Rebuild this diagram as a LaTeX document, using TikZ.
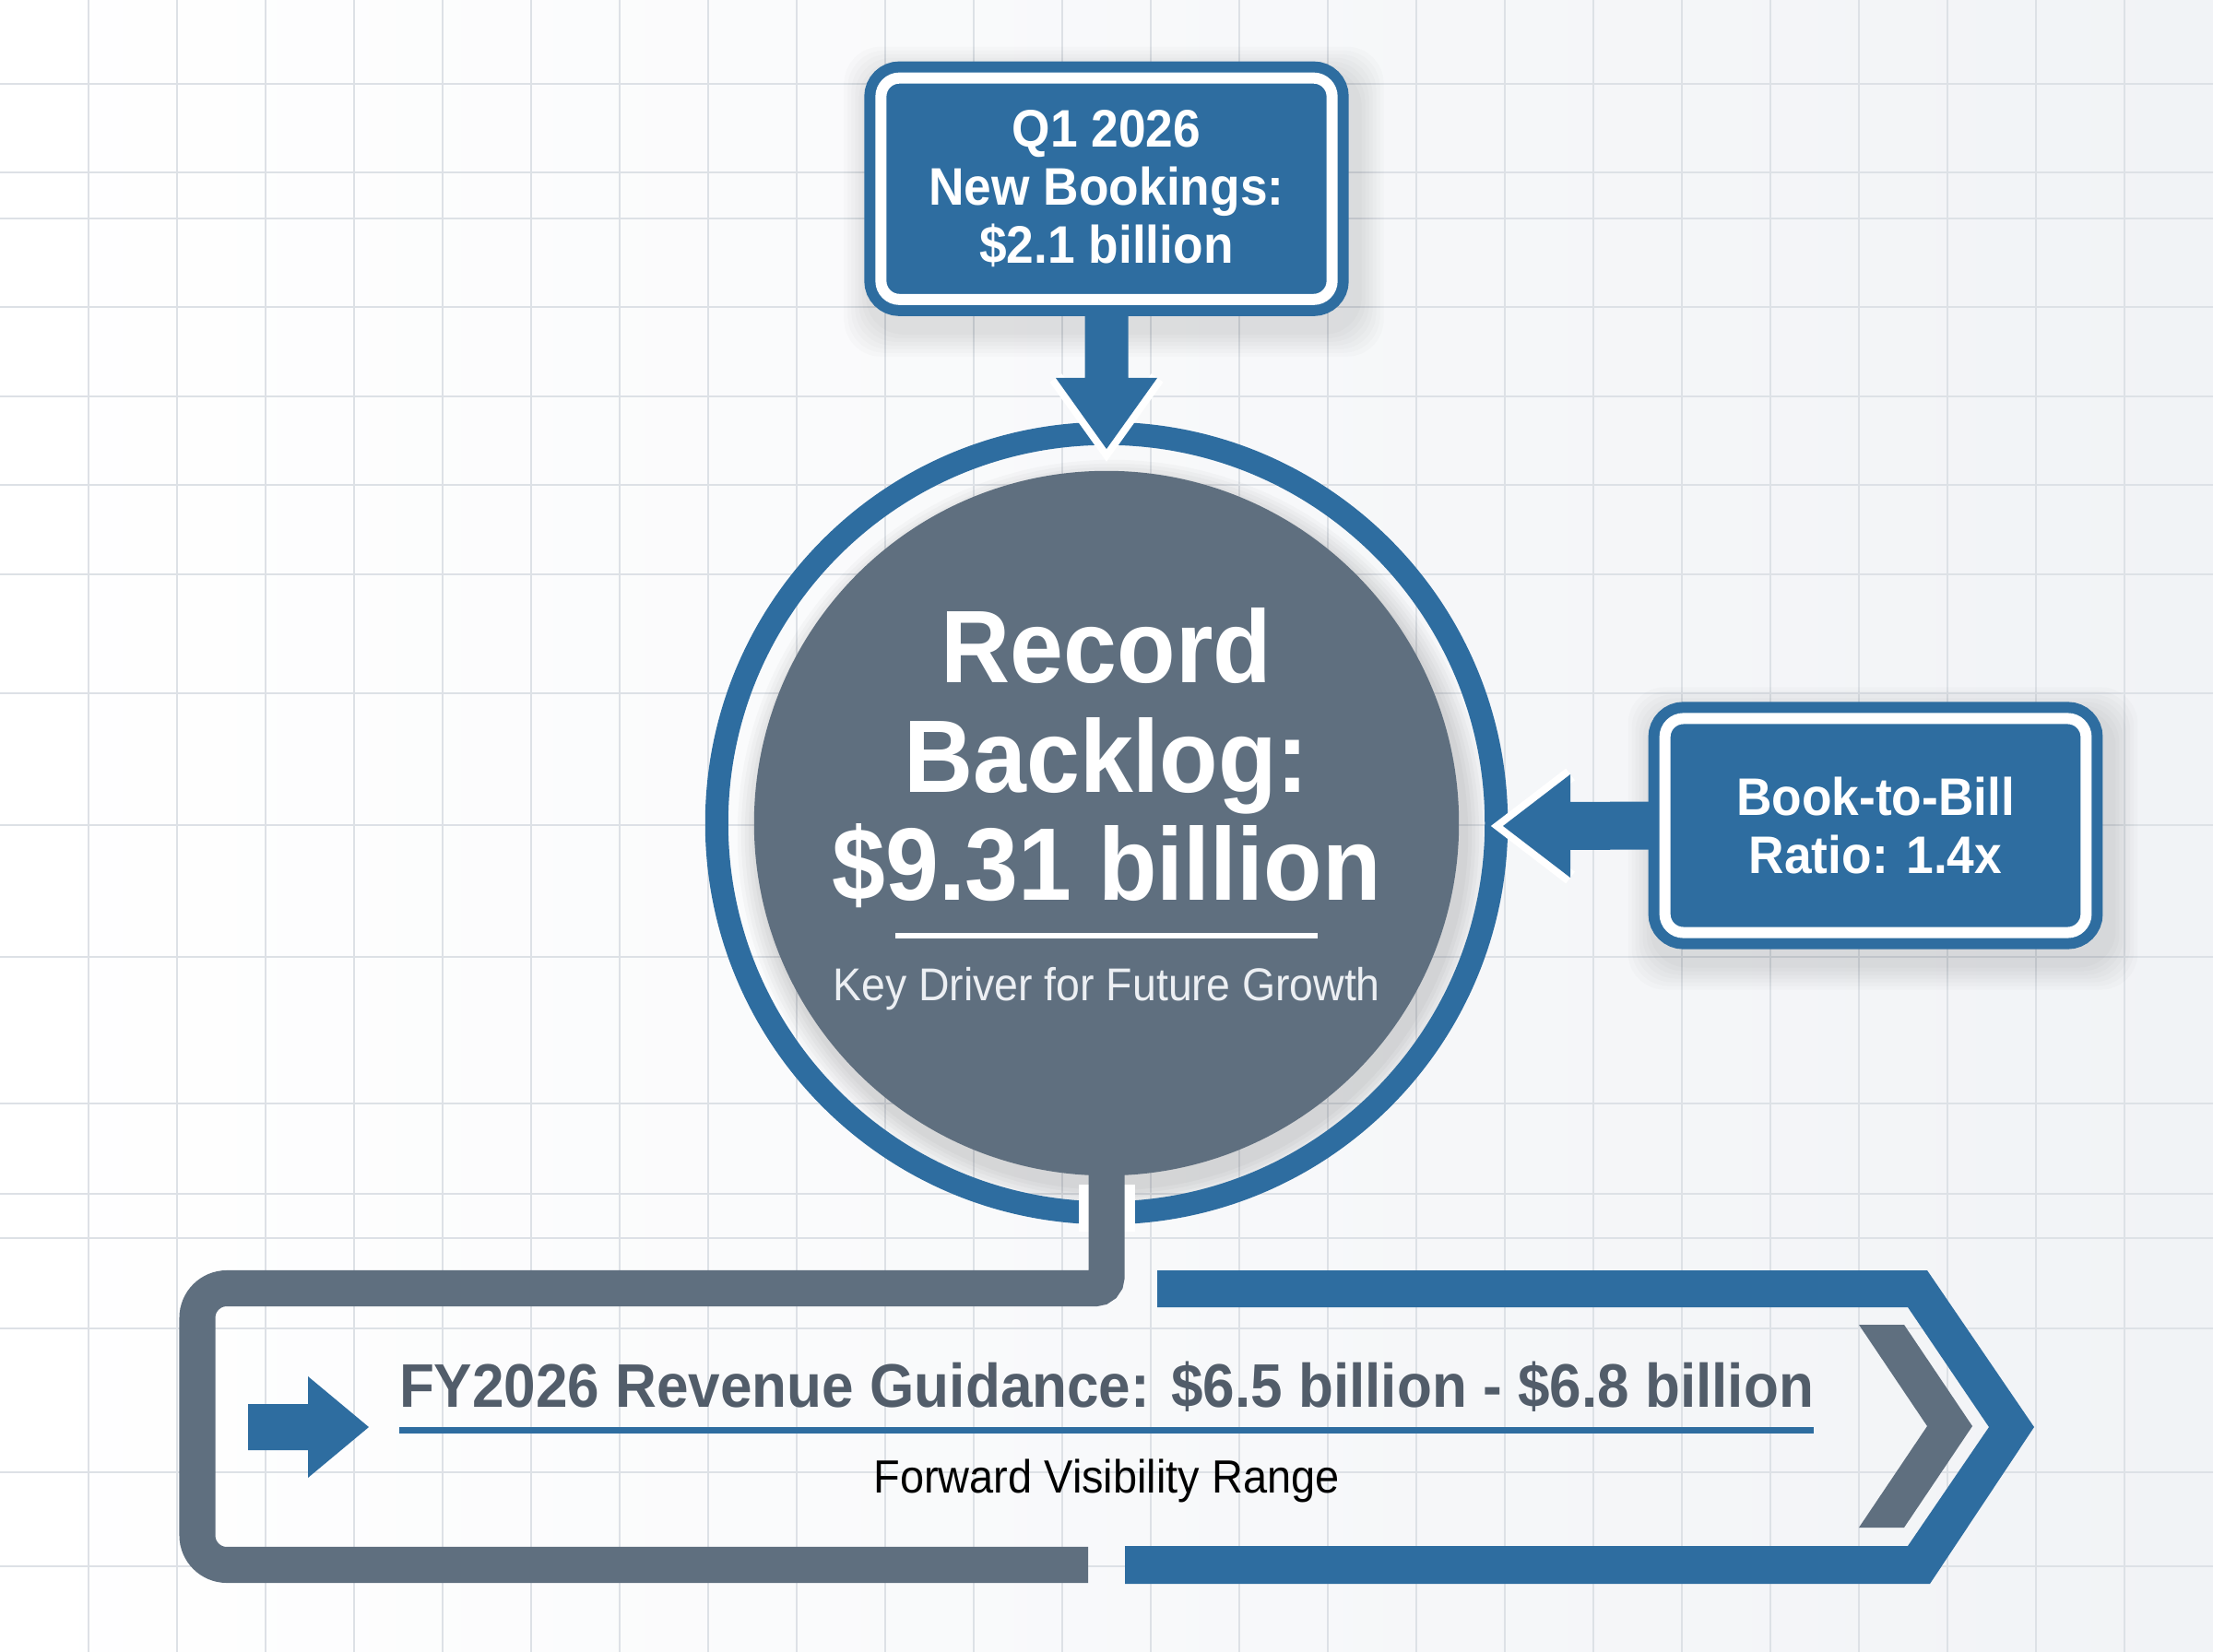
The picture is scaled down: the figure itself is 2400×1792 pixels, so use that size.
\documentclass[tikz,border=0pt]{standalone}
\usepackage{fontspec}
\setmainfont{Liberation Sans}[FakeStretch=0.93]
\usetikzlibrary{calc}
\newdimen\pxu \pxu=0.284528pt
\definecolor{myblue}{RGB}{46,109,160}
\definecolor{slate}{RGB}{95,111,127}
\definecolor{slatetext}{RGB}{82,93,106}
\definecolor{gridc}{RGB}{221,225,230}
\definecolor{bgright}{RGB}{241,243,246}
\definecolor{keytext}{RGB}{236,239,243}
\newcommand{\myboxfont}{\fontsize{16.3pt}{17.9pt}\selectfont\bfseries}
\newcommand{\mybigfont}{\fontsize{31.8pt}{33pt}\selectfont\bfseries}
\pgfdeclarelayer{back}
\pgfdeclarelayer{shad}
\pgfdeclarelayer{mid}
\pgfsetlayers{back,shad,mid,main}
\tikzset{
  box/.style={draw=myblue, double=white, double distance=12\pxu, line width=12\pxu,
    fill=myblue, rounded corners=20\pxu, inner sep=0pt, text=white, align=center,
    font=\myboxfont},
  bigt/.style={anchor=base, text=white, font=\mybigfont, inner sep=0pt},
  gridline/.style={gridc, line width=2\pxu},
  halo/.style={white, line width=16\pxu, line join=miter},
  conn/.style={slate, line width=39\pxu},
}
\begin{document}
\begin{tikzpicture}[x=0.01cm, y=-0.01cm]
\useasboundingbox (0,0) rectangle (2400,1792);
% ---------- background and grid
\begin{pgfonlayer}{back}
  \shade[left color=white, right color=bgright] (0,0) rectangle (2400,1792);
  \foreach \gx in {96,192,...,2304} \draw[gridline] (\gx,0) -- (\gx,1792);
  \foreach \gy in {91,187,237,333,430,526,623,752,895,1038,1197,1295,1343,1441,1597,1699}
    \draw[gridline] (0,\gy) -- (2400,\gy);
\end{pgfonlayer}

% ---------- central disc
\node[circle, fill=slate, minimum size=7.64cm, inner sep=0pt] (backlog) at (1200,893) {};
\node[bigt] (rec) at (1200,741) {Record};
\node[bigt] (bkl) at (1200,860) {Backlog:};
\node[bigt] (val) at (1200,977) {\$9.31 billion};
\draw[white, line width=5\pxu] (971,1015) -- (1429,1015);
\node[anchor=base, inner sep=0pt, text=keytext, font=\fontsize{14.2pt}{15pt}\selectfont] (kd) at (1200,1085) {Key Driver for Future Growth};

% ---------- boxes
\node[box, minimum width=489\pxu, minimum height=240\pxu] (q1) at (1200,204.75) {Q1 2026\\New Bookings:\\\$2.1 billion};
\node[box, minimum width=456.5\pxu, minimum height=232\pxu] (book) at (2034,895.5) {Book-to-Bill\\Ratio: 1.4x};

% ---------- shadows
\begin{pgfonlayer}{shad}
  \foreach \e in {18,22,...,42} {
    \fill[black, opacity=0.016, rounded corners=40\pxu] ($(q1.north west)+(8-\e,14-\e)$) rectangle ($(q1.south east)+(8+\e,14+\e)$);
    \fill[black, opacity=0.016, rounded corners=40\pxu] ($(book.north west)+(8-\e,14-\e)$) rectangle ($(book.south east)+(8+\e,14+\e)$);
  }
  \foreach \r in {3.86,3.90,3.94,3.98,4.02,4.06} \fill[black, opacity=0.022] ($(backlog.center)+(6,12)$) circle[radius=\r cm];
\end{pgfonlayer}

% ---------- ring and connector to guidance
\begin{pgfonlayer}{mid}
  \draw[myblue, line width=25\pxu] (backlog.center) circle[radius=4.225cm];
  \fill[white] (1170,1285) rectangle (1231,1336);
  \coordinate (gend) at (1180,1697);
  \draw[conn] (backlog.center) [rounded corners=12\pxu] -- (1200,1397.5) [rounded corners=32\pxu] -- (214,1397.5) -- (214,1697.5) -- (gend |- 0,1697.5);
\end{pgfonlayer}

% ---------- arrow Q1 -> backlog
\coordinate (toptip) at (1200,487);
\draw[halo] ($(toptip)+(-55,-77)$) -- (toptip) -- ($(toptip)+(55,-77)$);
\fill[myblue] ($(q1.south)+(-23.5,10)$) -- ($(q1.south)+(23.5,10)$) -- ($(toptip)+(23.5,-77)$) -- ($(toptip)+(55,-77)$) -- (toptip) -- ($(toptip)+(-55,-77)$) -- ($(toptip)+(-23.5,-77)$) -- cycle;

% ---------- arrow Book-to-Bill -> backlog
\coordinate (righttip) at (1630,896);
\draw[halo] ($(righttip)+(73,-56)$) -- (righttip) -- ($(righttip)+(73,56)$);
\fill[myblue] ($(book.west)+(-10,-26)$) -- ($(righttip)+(73,-26)$) -- ($(righttip)+(73,-56)$) -- (righttip) -- ($(righttip)+(73,56)$) -- ($(righttip)+(73,26)$) -- ($(book.west)+(-10,26)$) -- cycle;

% ---------- guidance band
\fill[myblue] (1255,1378) -- (2090,1378) -- (2206,1548) -- (2093,1718) -- (1220,1718) -- (1220,1677) -- (2069,1677) -- (2157,1548) -- (2069,1418) -- (1255,1418) -- cycle;
\fill[slate] (2016,1437) -- (2065,1437) -- (2139,1547) -- (2065,1657) -- (2016,1657) -- (2090,1547) -- cycle;
\fill[myblue] (269,1523) -- (334,1523) -- (334,1493) -- (400,1548) -- (334,1603) -- (334,1573) -- (269,1573) -- cycle;

\node[anchor=base, inner sep=0pt, text=slatetext, font=\fontsize{18.98pt}{20pt}\selectfont\bfseries] (guid) at (1200,1526) {FY2026 Revenue Guidance: \$6.5 billion - \$6.8 billion};
\draw[myblue, line width=7\pxu] (433,1551) -- (1967,1551);
\node[anchor=base, inner sep=0pt, text=black, font=\fontsize{14.35pt}{15pt}\selectfont] (fwd) at (1200,1619) {Forward Visibility Range};
\end{tikzpicture}
\end{document}
